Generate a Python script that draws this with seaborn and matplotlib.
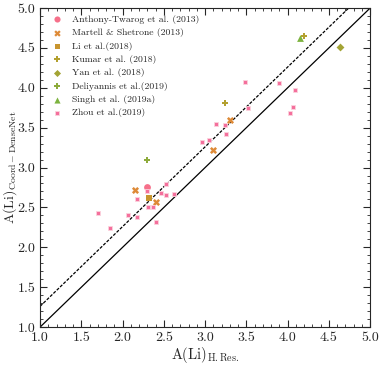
import numpy as np
import pandas as pd
import matplotlib
matplotlib.use("Agg")
import matplotlib.pyplot as plt
import seaborn as sns
from matplotlib.ticker import MultipleLocator

# values
studies = ["Anthony-Twarog et al. (2013)", "Martell & Shetrone (2013)", "Li et al.(2018)",
           "Kumar et al. (2018)", "Yan et al. (2018)", "Deliyannis et al.(2019)",
           "Singh et al. (2019a)", "Zhou et al.(2019)"]

anthony_x = [2.30]
anthony_y = [2.75]
martell_x = [2.15, 2.41, 3.10, 3.30]
martell_y = [2.72, 2.57, 3.22, 3.60]
li_x = [2.32]
li_y = [2.62]
kumar_x = [3.24, 4.20]
kumar_y = [3.81, 4.65]
yan_x = [4.63]
yan_y = [4.51]
deli_x = [2.30]
deli_y = [3.10]
singh_x = [4.15]
singh_y = [4.63]
zhou_x = [2.53, 2.30, 2.47, 2.53, 2.62, 2.18, 2.31, 2.37, 1.70, 2.06, 2.18, 2.41, 1.85,
          3.52, 3.13, 3.24, 3.25, 3.05, 2.96, 3.48, 3.90, 4.09, 4.07, 4.03]
zhou_y = [2.79, 2.70, 2.68, 2.66, 2.67, 2.61, 2.51, 2.51, 2.43, 2.40, 2.38, 2.32, 2.24,
          3.75, 3.55, 3.53, 3.42, 3.35, 3.32, 4.07, 4.06, 3.97, 3.76, 3.69]

xs = [anthony_x, martell_x, li_x, kumar_x, yan_x, deli_x, singh_x, zhou_x]
ys = [anthony_y, martell_y, li_y, kumar_y, yan_y, deli_y, singh_y, zhou_y]

df = pd.DataFrame({
    "x": np.concatenate(xs),
    "y": np.concatenate(ys),
    "study": np.repeat(studies, [len(v) for v in xs]),
})

colors = ["#f6708a", "#de8a37", "#c8952f", "#b3a02f", "#a3a435", "#8dab3b", "#7db33f", "#f46f9c"]
markers = ["o", "X", "s", "P", "D", "P", "^", "s"]
sizes = [24, 26, 16, 24, 16, 20, 24, 12]

sns.set_style("ticks")
plt.rcParams["font.family"] = ["cmr10", "DejaVu Serif"]
plt.rcParams["mathtext.fontset"] = "cm"
plt.rcParams["axes.formatter.use_mathtext"] = True

fig = plt.figure(figsize=(3.82, 3.65), dpi=100)
ax = fig.add_axes([0.105, 0.104, 0.864, 0.874])

for st, c, m, s in zip(studies, colors, markers, sizes):
    sub = df[df["study"] == st]
    sns.scatterplot(data=sub, x="x", y="y", color=c, marker=m, s=s,
                    edgecolor="#fbd3dd" if st.startswith("Zhou") else c,
                    linewidth=0.6 if st.startswith("Zhou") else 0.0,
                    label=st, ax=ax, zorder=3)

line = np.array([1.0, 5.0])
ax.plot(line, line, color="black", lw=0.9, zorder=2)
ax.plot(line, line + 0.26, color="black", lw=0.9, ls=(0, (2.5, 1.2)), zorder=2)

ax.set_xlim(1.0, 5.0)
ax.set_ylim(1.0, 5.0)
ax.xaxis.set_major_locator(MultipleLocator(0.5))
ax.yaxis.set_major_locator(MultipleLocator(0.5))
ax.xaxis.set_minor_locator(MultipleLocator(0.1))
ax.yaxis.set_minor_locator(MultipleLocator(0.1))
ax.tick_params(which="both", direction="in", top=True, right=True, labelsize=10)
ax.tick_params(which="major", length=5, width=0.8)
ax.tick_params(which="minor", length=2.5, width=0.6)
ax.xaxis.set_major_formatter(matplotlib.ticker.FormatStrFormatter("%.1f"))
ax.yaxis.set_major_formatter(matplotlib.ticker.FormatStrFormatter("%.1f"))

ax.set_xlabel(r"A(Li)$_{\rm H.Res.}$", fontsize=10.5, labelpad=1)
ax.set_ylabel(r"A(Li)$_{\rm Coord-DenseNet}$", fontsize=10)
ax.yaxis.set_label_coords(-0.065, 0.5)

ax.legend(loc="upper left", frameon=False, fontsize=7, handletextpad=0.6,
          borderaxespad=0.3, labelspacing=0.45, markerscale=0.9)

fig.savefig("out.png", dpi=100)
